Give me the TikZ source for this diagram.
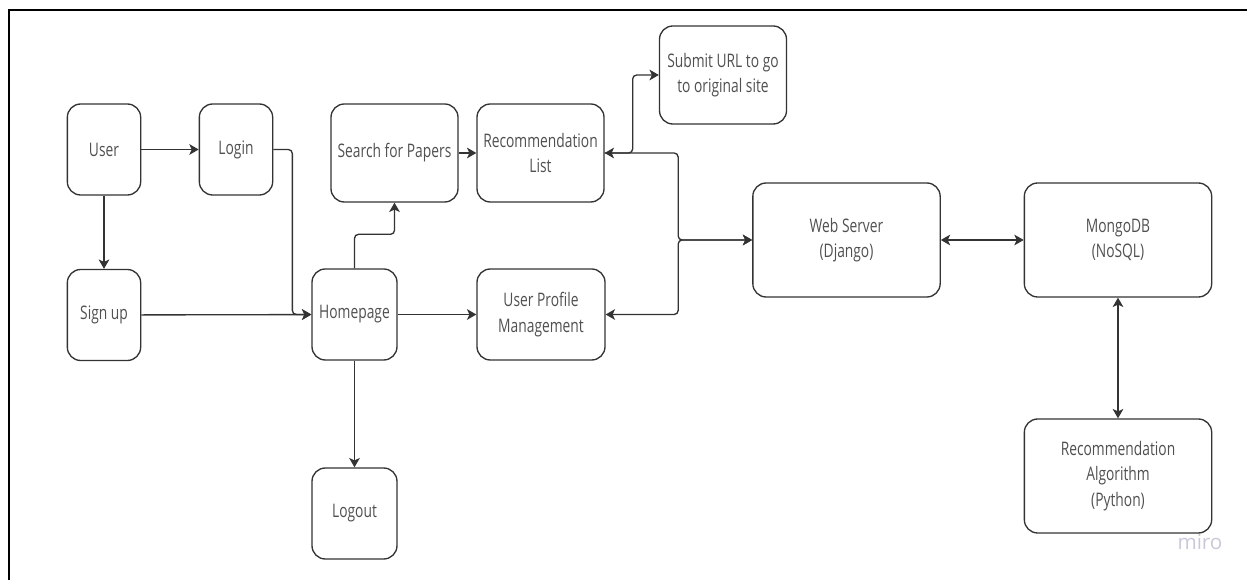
\documentclass[tikz,border=0pt]{standalone}
\usepackage{fontspec}
\setmainfont{Open Sans}[FakeStretch=0.74]
\newfontfamily\mirofont{Open Sans}
\usepackage{xcolor}
\usepackage{tikz}
\usetikzlibrary{shapes,arrows,positioning,calc,arrows.meta}

\definecolor{linegray}{HTML}{333333}
\definecolor{textgray}{HTML}{505050}
\definecolor{mirogray}{HTML}{C8C8DA}

\tikzset{
    box/.style={draw=linegray, line width=1pt, rounded corners=10pt, align=center,
        text=textgray, inner sep=2pt, font=\fontsize{14}{19}\selectfont},
    smallbox/.style={box, minimum width=55pt, minimum height=68.25pt},
    homebox/.style={box, minimum width=63.75pt, minimum height=68.25pt},
    midbox/.style={box, minimum width=95.25pt, minimum height=73.5pt},
    profbox/.style={box, minimum width=96pt, minimum height=68.25pt},
    bigbox/.style={box, minimum width=140.5pt, minimum height=85.5pt},
    link/.style={draw=linegray, line width=1pt, rounded corners=3pt,
        -{Stealth[length=7pt,width=8pt,inset=1.8pt]}},
    dlink/.style={link, {Stealth[length=7pt,width=8pt,inset=1.8pt]}-{Stealth[length=7pt,width=8pt,inset=1.8pt]}}
}

\begin{document}
\begin{tikzpicture}[x=0.75pt, y=-0.75pt]
    \useasboundingbox (0,0) rectangle (1247,580);
    % frame
    \draw[line width=2.2pt] (9,585) -- (9,10) -- (1252,10);

    % Left side
    \node[smallbox] (user) at (104,149.5) {User};
    \node[smallbox] (login) at (236,149.5) {Login};
    \node[smallbox] (signup) at (104,315) {Sign up};
    \node[homebox] (home) at (354.5,314.5) {Homepage};
    \node[homebox] (logout) at (354.5,513.5) {Logout};

    % Middle
    \node[midbox] (search) at (394.5,153) {Search for Papers};
    \node[midbox] (rec) at (540.5,153) {Recommendation\\List};
    \node[midbox] (submit) at (723,75) {Submit URL to go\\to original site};
    \node[profbox] (profile) at (541,314.5) {User Profile\\Management};

    % Back end
    \node[bigbox] (web) at (846.5,240) {Web Server\\(Django)};
    \node[bigbox] (mongo) at (1118,240) {MongoDB\\(NoSQL)};
    \node[bigbox] (algo) at (1118,476) {Recommendation\\Algorithm\\(Python)};

    \node[text=mirogray, font=\mirofont\fontsize{15.5}{15.5}\selectfont] (miro) at (1200,542) {miro};

    % Connectors
    \draw[link] (user) -- (login);
    \draw[link] (user) -- (signup);
    \draw[link] (login.east) -- ++(19,0) |- (home.west);
    \draw[link] (signup) -- (home);
    \draw[link] (home.north) -- ++(0,-34) -| (search.south);
    \draw[link] (search) -- (rec);
    \draw[link] (rec.east) -- ++(28,0) |- (submit.west);
    \draw[link] (home) -- (profile);
    \draw[link] (home) -- (logout);
    \draw[dlink] (web.west) -- ++(-74,0) |- (rec.east);
    \draw[dlink] (web.west) -- ++(-74,0) |- (profile.east);
    \draw[dlink] (web) -- (mongo);
    \draw[dlink] (mongo) -- (algo);
\end{tikzpicture}
\end{document}
